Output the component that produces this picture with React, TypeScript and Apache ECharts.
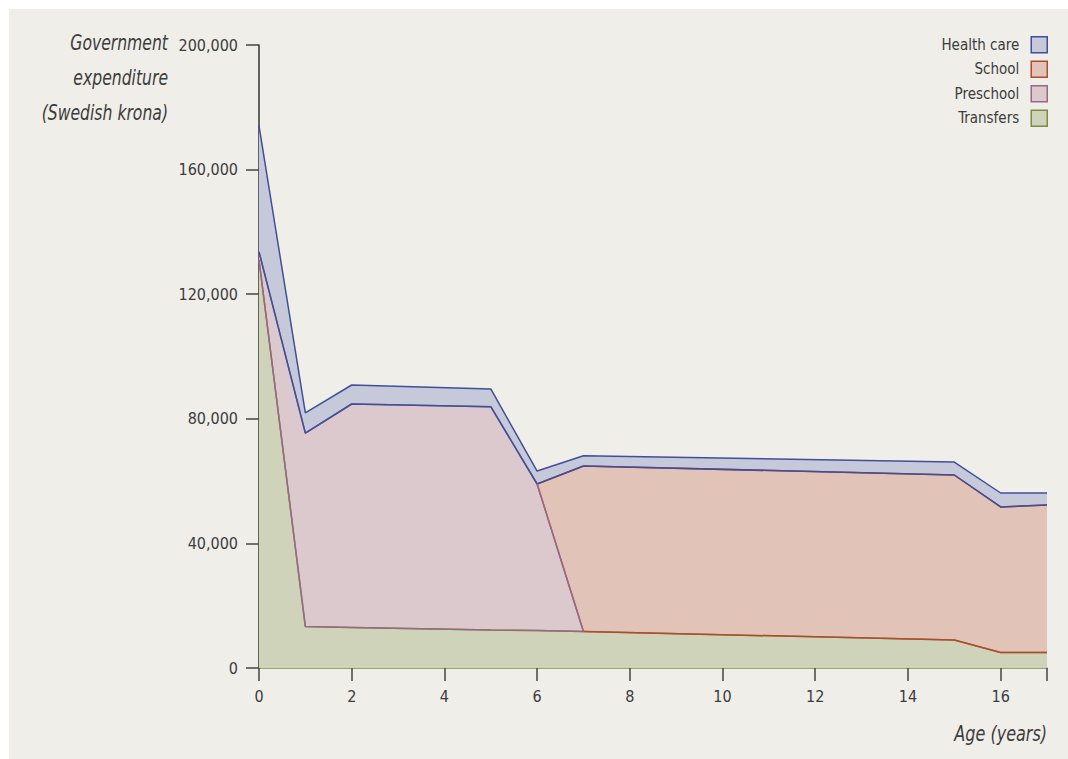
import React, { useEffect, useRef } from "react";
import * as echarts from "echarts";

// Ages (years) at which each component was read
const transfersAges = [0, 1, 2, 5, 6, 7, 15, 16, 17];
const transfersValues = [131000, 13300, 13000, 12200, 12000, 11700, 9000, 5000, 5000];

const preschoolAges = [0, 1, 2, 5, 6, 7];
const preschoolValues = [2600, 62100, 71750, 71700, 47070, 0];

const schoolAges = [6, 7, 15, 16, 17];
const schoolValues = [0, 53150, 52960, 46700, 47300];

const healthAges = [0, 1, 2, 5, 6, 7, 15, 16, 17];
const healthValues = [40400, 6500, 6100, 5670, 4170, 3300, 4170, 4480, 3880];

const seriesNames = ["Health care", "School", "Preschool", "Transfers"];
const yTicks = [0, 40000, 80000, 120000, 160000, 200000];
const xTicks = [0, 2, 4, 6, 8, 10, 12, 14, 16];

const FONT = "'DejaVu Sans Condensed', 'Liberation Sans Narrow', 'Noto Sans', sans-serif";
const PANEL = "#efeee9";

type Layer = [number[], number[]];

function valueAt(ages: number[], values: number[], age: number): number {
  const i = ages.indexOf(age);
  return i >= 0 ? values[i] : 0;
}

// cumulative stack sums of the given layers at each age
function cumulative(ages: number[], layers: Layer[]): number[][] {
  return ages.map((a) => {
    let s = 0;
    layers.forEach(([ag, vals]) => {
      s += valueAt(ag, vals, a);
    });
    return [a, s];
  });
}

export default function App() {
  const ref = useRef<HTMLDivElement>(null);

  useEffect(() => {
    if (!ref.current) return;
    document.documentElement.style.background = PANEL;
    document.body.style.background = PANEL;
    const chart = echarts.init(ref.current, null, { renderer: "svg" });

    const T: Layer = [transfersAges, transfersValues];
    const P: Layer = [preschoolAges, preschoolValues];
    const S: Layer = [schoolAges, schoolValues];
    const H: Layer = [healthAges, healthValues];

    const tops: Record<string, number[][]> = {
      "Health care": cumulative(healthAges, [T, P, S, H]),
      School: cumulative(schoolAges, [T, P, S]),
      Preschool: cumulative(preschoolAges, [T, P]),
      Transfers: cumulative(transfersAges, [T]),
    };
    // school's lower edge only where it rests on transfers (no preschool under it)
    const schoolOnTransfers = schoolAges.filter((a) => valueAt(preschoolAges, preschoolValues, a) === 0);
    const bottoms: Record<string, number[][]> = {
      "Health care": cumulative(healthAges, [T, P, S]),
      School: cumulative(schoolOnTransfers, [T]),
      Preschool: cumulative(preschoolAges, [T]),
    };

    const styles = {
      "Health care": { fill: "#c6c9d9", line: "#3f4f9c" },
      School: { fill: "#e1c3b7", line: "#b24a30" },
      Preschool: { fill: "#dbc9ce", line: "#9a6882" },
      Transfers: { fill: "#cfd3b9", line: "#7d8b45" },
    } as Record<string, { fill: string; line: string }>;

    const areaSeries = seriesNames.map((n) => ({
      name: n,
      type: "line",
      data: tops[n],
      symbol: "none",
      showSymbol: false,
      lineStyle: { color: styles[n].line, width: 1.5 },
      itemStyle: { color: styles[n].fill, borderColor: styles[n].line },
      areaStyle: { color: styles[n].fill, opacity: 1 },
      emphasis: { disabled: true },
    }));

    // lower outlines of each band (the original draws outlined polygons)
    const edgeSeries = ["Preschool", "School", "Health care"].map((n) => ({
      name: n,
      type: "line",
      data: bottoms[n],
      symbol: "none",
      showSymbol: false,
      silent: true,
      lineStyle: { color: styles[n].line, width: 1.5 },
      itemStyle: { color: styles[n].fill },
      emphasis: { disabled: true },
    }));

    // preschool's top edge redrawn so its falling edge stays purple
    const preschoolTopEdge = {
      name: "Preschool",
      type: "line",
      data: tops["Preschool"].filter((p) => p[0] >= 6),
      symbol: "none",
      showSymbol: false,
      silent: true,
      lineStyle: { color: styles["Preschool"].line, width: 1.5 },
      itemStyle: { color: styles["Preschool"].fill },
      emphasis: { disabled: true },
    };

    const option: any = {
      animation: false,
      backgroundColor: "transparent",
      textStyle: { fontFamily: FONT },
      grid: { left: 250, right: 21, top: 36, bottom: 91, containLabel: false },
      legend: {
        orient: "vertical",
        right: 20,
        top: 27,
        padding: 0,
        align: "right",
        itemWidth: 16,
        itemHeight: 16,
        itemGap: 7,
        icon: "rect",
        textStyle: {
          fontFamily: FONT,
          fontSize: 15,
          lineHeight: 16,
          color: "#3c3c3c",
          padding: [0, 7, 0, 0],
        },
        data: seriesNames.map((n) => ({
          name: n,
          itemStyle: { color: styles[n].fill, borderColor: styles[n].line, borderWidth: 1.5 },
        })),
      },
      xAxis: {
        type: "value",
        min: 0,
        max: 17,
        interval: 2,
        axisLine: { show: true, lineStyle: { color: "#7d8b45", width: 1.5 } },
        axisTick: { show: true, length: 13, inside: false, lineStyle: { color: "#444", width: 1.5 } },
        axisLabel: {
          fontFamily: FONT,
          fontSize: 16,
          color: "#3c3c3c",
          margin: 20,
          formatter: (v: number) => (xTicks.includes(v) ? String(v) : ""),
        },
        splitLine: { show: false },
      },
      yAxis: {
        type: "value",
        min: 0,
        max: 200000,
        interval: 40000,
        axisLine: { show: true, lineStyle: { color: "#333", width: 1.5 } },
        axisTick: { show: true, length: 13, lineStyle: { color: "#444", width: 1.5 } },
        axisLabel: {
          fontFamily: FONT,
          fontSize: 16,
          color: "#3c3c3c",
          margin: 21,
          formatter: (v: number) => (yTicks.includes(v) ? v.toLocaleString("en-US") : ""),
        },
        splitLine: { show: false },
      },
      graphic: [
        {
          type: "text",
          x: 159,
          y: 16,
          scaleX: 0.79,
          style: {
            text: "Government\nexpenditure\n(Swedish krona)",
            fontFamily: FONT,
            fontStyle: "italic",
            fontSize: 22,
            lineHeight: 35,
            fill: "#3c3c3c",
            align: "right",
            verticalAlign: "top",
          },
        },
        {
          type: "text",
          x: 1038,
          y: 724,
          scaleX: 0.81,
          style: {
            text: "Age (years)",
            fontFamily: FONT,
            fontStyle: "italic",
            fontSize: 22,
            fill: "#3c3c3c",
            align: "right",
            verticalAlign: "middle",
          },
        },
      ],
      series: [...areaSeries, ...edgeSeries, preschoolTopEdge],
    };

    chart.setOption(option);
    return () => chart.dispose();
  }, []);

  return (
    <div
      style={{
        position: "fixed",
        left: 0,
        top: 0,
        width: 1068,
        height: 759,
        background: "#ffffff",
        overflow: "hidden",
      }}
    >
      <div
        ref={ref}
        style={{
          position: "absolute",
          left: 9,
          top: 9,
          width: 1059,
          height: 750,
          background: PANEL,
        }}
      />
    </div>
  );
}
